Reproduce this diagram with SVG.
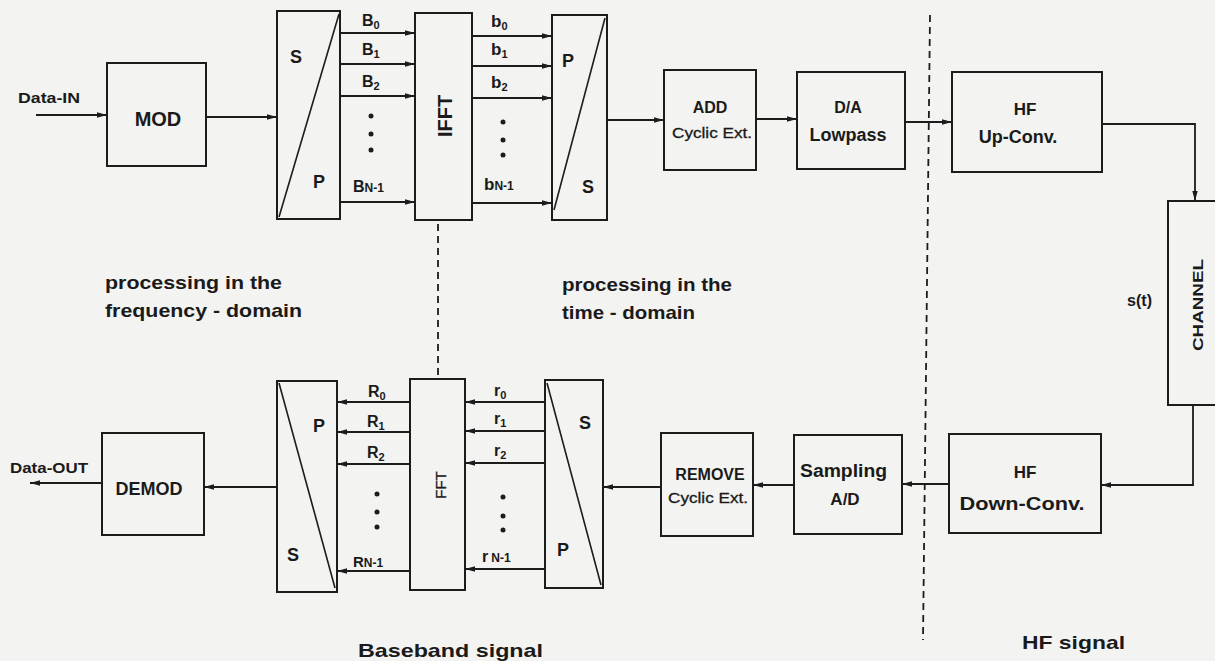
<svg xmlns="http://www.w3.org/2000/svg" width="1215" height="661" viewBox="0 0 1215 661">
<style>
.box{fill:none;stroke:#1c1c1c;stroke-width:2}
.diag{fill:none;stroke:#1c1c1c;stroke-width:1.6}
.ln{fill:none;stroke:#1c1c1c;stroke-width:1.8}
.arr{marker-end:url(#ah)}
.dash{fill:none;stroke:#1c1c1c;stroke-width:1.8;stroke-dasharray:7 5}
text{font-family:"Liberation Sans",Arial,sans-serif;fill:#1a1a1a;font-weight:bold}
.c{text-anchor:middle}
.n{font-weight:normal;stroke:#1a1a1a;stroke-width:0.3}
.dot{fill:#1c1c1c}
</style>
<defs>
<marker id="ah" markerUnits="userSpaceOnUse" markerWidth="11" markerHeight="7" refX="10" refY="3.5" orient="auto">
<path d="M0,0.8 L10,3.5 L0,6.2 z" fill="#1c1c1c"/>
</marker>
</defs>
<rect x="0" y="0" width="1215" height="661" fill="#f3f3f1"/>

<g id="connectors">
<path class="ln arr" d="M36,115 H107"/>
<path class="ln arr" d="M206,117 H277"/>
<path class="ln arr" d="M341,33 H415"/>
<path class="ln arr" d="M341,64 H415"/>
<path class="ln arr" d="M341,96 H415"/>
<path class="ln arr" d="M341,202 H415"/>
<path class="ln arr" d="M472,36 H552"/>
<path class="ln arr" d="M472,66 H552"/>
<path class="ln arr" d="M472,98 H552"/>
<path class="ln arr" d="M472,203 H552"/>
<path class="ln arr" d="M607,120 H664"/>
<path class="ln arr" d="M756,119 H797"/>
<path class="ln arr" d="M905,122 H952"/>
<path class="ln arr" d="M1102,124 H1195 V201"/>
<path class="ln arr" d="M1193,405 V485 H1101"/>
<path class="ln arr" d="M949,484 H902"/>
<path class="ln arr" d="M794,485 H753"/>
<path class="ln arr" d="M661,487 H603"/>
<path class="ln arr" d="M545,402 H465"/>
<path class="ln arr" d="M545,431 H465"/>
<path class="ln arr" d="M545,463 H465"/>
<path class="ln arr" d="M545,569 H465"/>
<path class="ln arr" d="M410,402 H337"/>
<path class="ln arr" d="M410,432 H337"/>
<path class="ln arr" d="M410,464 H337"/>
<path class="ln arr" d="M410,571 H337"/>
<path class="ln arr" d="M277,487 H204"/>
<path class="ln arr" d="M102,483 H30"/>
<path class="dash" d="M438,224 V377"/>
<path class="dash" d="M930,15 L923,640"/>
</g>

<g id="data-in"><text x="18" y="103" font-size="14" textLength="62" lengthAdjust="spacingAndGlyphs">Data-IN</text></g>

<g id="mod">
<rect class="box" x="107" y="63" width="99" height="103"/>
<text class="c" x="158" y="126" font-size="20">MOD</text>
</g>

<g id="sp-tx">
<rect class="box" x="277" y="11" width="63" height="208"/>
<path class="diag" d="M279,217 L339,14"/>
<text x="290" y="63" font-size="18">S</text>
<text x="313" y="188" font-size="18">P</text>
</g>

<g id="b-labels">
<text x="362" y="26" font-size="16">B<tspan dy="3" font-size="11">0</tspan></text>
<text x="362" y="55" font-size="16">B<tspan dy="3" font-size="11">1</tspan></text>
<text x="362" y="87" font-size="16">B<tspan dy="3" font-size="11">2</tspan></text>
<text x="353" y="192" font-size="16">B<tspan font-size="12">N-1</tspan></text>
<circle class="dot" cx="371" cy="116" r="2.5"/>
<circle class="dot" cx="371" cy="134" r="2.5"/>
<circle class="dot" cx="371" cy="150" r="2.5"/>
</g>

<g id="ifft">
<rect class="box" x="415" y="13" width="57" height="207"/>
<text class="c" transform="translate(452,116) rotate(-90)" font-size="20">IFFT</text>
</g>

<g id="bb-labels">
<text x="491" y="27" font-size="17">b<tspan dy="3" font-size="11">0</tspan></text>
<text x="491" y="55" font-size="17">b<tspan dy="3" font-size="11">1</tspan></text>
<text x="491" y="88" font-size="17">b<tspan dy="3" font-size="11">2</tspan></text>
<text x="484" y="190" font-size="17">b<tspan font-size="12">N-1</tspan></text>
<circle class="dot" cx="503" cy="122" r="2.5"/>
<circle class="dot" cx="503" cy="140" r="2.5"/>
<circle class="dot" cx="503" cy="155" r="2.5"/>
</g>

<g id="ps-tx">
<rect class="box" x="552" y="15" width="55" height="205"/>
<path class="diag" d="M554,210 L605,18"/>
<text x="562" y="67" font-size="18">P</text>
<text x="582" y="193" font-size="18">S</text>
</g>

<g id="add">
<rect class="box" x="664" y="70" width="92" height="100"/>
<text class="c" x="710" y="113" font-size="16">ADD</text>
<text class="c n" x="712" y="138" font-size="15" textLength="80" lengthAdjust="spacingAndGlyphs">Cyclic Ext.</text>
</g>

<g id="da">
<rect class="box" x="797" y="72" width="108" height="97"/>
<text class="c" x="848" y="113" font-size="16">D/A</text>
<text class="c" x="848" y="141" font-size="18">Lowpass</text>
</g>

<g id="hf-up">
<rect class="box" x="952" y="72" width="150" height="100"/>
<text class="c" x="1025" y="115" font-size="17">HF</text>
<text class="c" x="1018" y="143" font-size="18">Up-Conv.</text>
</g>

<g id="channel">
<rect class="box" x="1168" y="201" width="60" height="204"/>
<text class="c" transform="translate(1203,305) rotate(-90)" font-size="15" textLength="92" lengthAdjust="spacingAndGlyphs">CHANNEL</text>
</g>

<g id="st"><text x="1127" y="306" font-size="16" textLength="25" lengthAdjust="spacingAndGlyphs">s(t)</text></g>

<g id="hf-down">
<rect class="box" x="949" y="434" width="152" height="99"/>
<text class="c" x="1025" y="478" font-size="17">HF</text>
<text class="c" x="1022" y="510" font-size="18" textLength="125" lengthAdjust="spacingAndGlyphs">Down-Conv.</text>
</g>

<g id="sampling">
<rect class="box" x="794" y="435" width="108" height="99"/>
<text x="800" y="477" font-size="18" textLength="87" lengthAdjust="spacingAndGlyphs">Sampling</text>
<text class="c" x="845" y="505" font-size="17">A/D</text>
</g>

<g id="remove">
<rect class="box" x="661" y="433" width="92" height="103"/>
<text class="c" x="710" y="480" font-size="16">REMOVE</text>
<text class="c n" x="708" y="503" font-size="15" textLength="80" lengthAdjust="spacingAndGlyphs">Cyclic Ext.</text>
</g>

<g id="sp-rx">
<rect class="box" x="545" y="380" width="58" height="208"/>
<path class="diag" d="M547,383 L601,585"/>
<text x="579" y="429" font-size="18">S</text>
<text x="557" y="556" font-size="18">P</text>
</g>

<g id="r-labels">
<text x="494" y="396" font-size="16">r<tspan dy="3" font-size="11">0</tspan></text>
<text x="494" y="424" font-size="16">r<tspan dy="3" font-size="11">1</tspan></text>
<text x="494" y="456" font-size="16">r<tspan dy="3" font-size="11">2</tspan></text>
<text x="482" y="562" font-size="16">r<tspan dx="3" font-size="12">N-1</tspan></text>
<circle class="dot" cx="503" cy="497" r="2.5"/>
<circle class="dot" cx="503" cy="516" r="2.5"/>
<circle class="dot" cx="503" cy="530" r="2.5"/>
</g>

<g id="fft">
<rect class="box" x="410" y="379" width="55" height="211"/>
<text class="c n" transform="translate(446,485) rotate(-90)" font-size="15">FFT</text>
</g>

<g id="rr-labels">
<text x="368" y="397" font-size="16">R<tspan dy="3" font-size="11">0</tspan></text>
<text x="367" y="427" font-size="16">R<tspan dy="3" font-size="11">1</tspan></text>
<text x="367" y="458" font-size="16">R<tspan dy="3" font-size="11">2</tspan></text>
<text x="353" y="567" font-size="15">R<tspan font-size="12">N-1</tspan></text>
<circle class="dot" cx="377" cy="494" r="2.5"/>
<circle class="dot" cx="377" cy="512" r="2.5"/>
<circle class="dot" cx="377" cy="527" r="2.5"/>
</g>

<g id="ps-rx">
<rect class="box" x="277" y="381" width="60" height="211"/>
<path class="diag" d="M279,383 L335,588"/>
<text x="313" y="432" font-size="18">P</text>
<text x="287" y="561" font-size="18">S</text>
</g>

<g id="demod">
<rect class="box" x="102" y="433" width="102" height="102"/>
<text class="c" x="149" y="495" font-size="18">DEMOD</text>
</g>

<g id="data-out"><text x="10" y="473" font-size="14" textLength="78" lengthAdjust="spacingAndGlyphs">Data-OUT</text></g>

<g id="notes">
<text x="105" y="289" font-size="19" textLength="177" lengthAdjust="spacingAndGlyphs">processing in the</text>
<text x="105" y="317" font-size="19" textLength="197" lengthAdjust="spacingAndGlyphs">frequency - domain</text>
<text x="562" y="291" font-size="19" textLength="170" lengthAdjust="spacingAndGlyphs">processing in the</text>
<text x="562" y="319" font-size="19" textLength="133" lengthAdjust="spacingAndGlyphs">time - domain</text>
<text x="358" y="657" font-size="19" textLength="185" lengthAdjust="spacingAndGlyphs">Baseband signal</text>
<text x="1022" y="649" font-size="19" textLength="103" lengthAdjust="spacingAndGlyphs">HF signal</text>
</g>
</svg>
